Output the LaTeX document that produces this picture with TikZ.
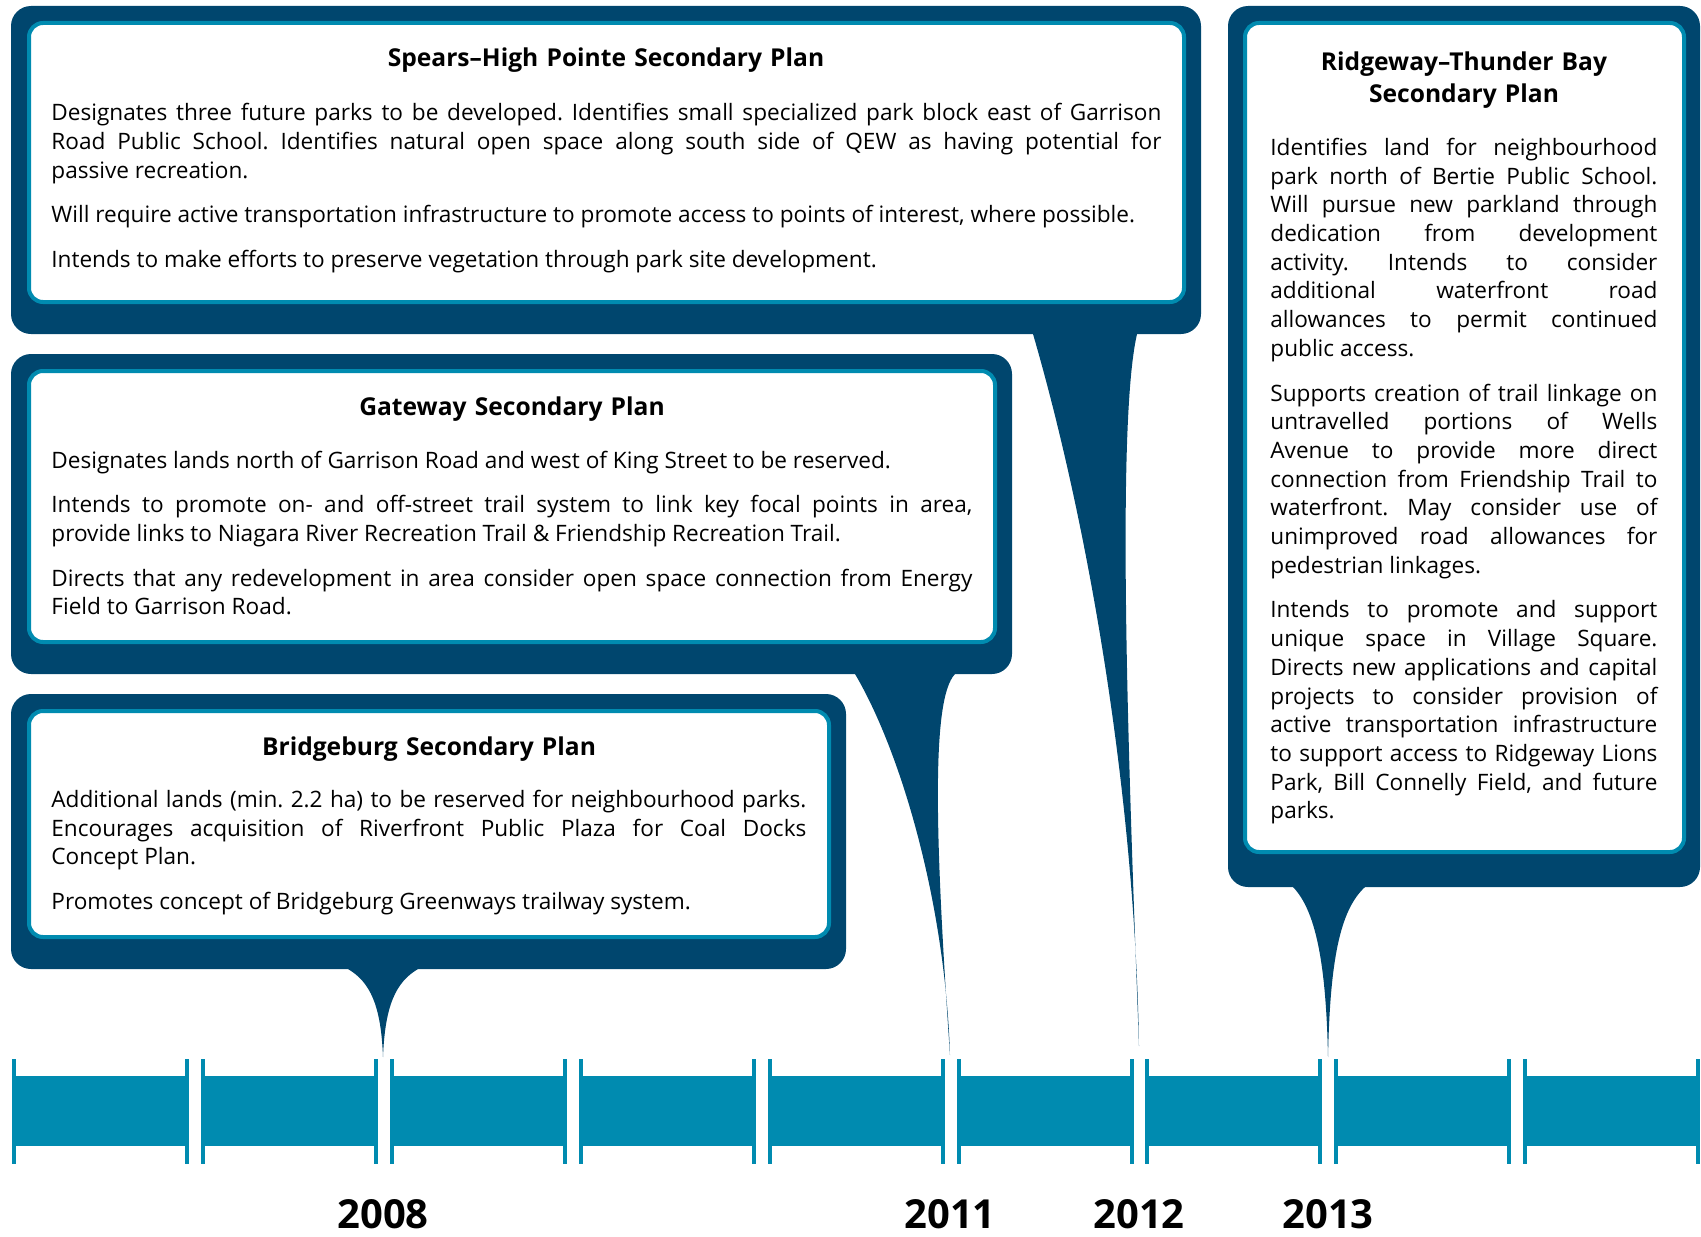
\documentclass[tikz,border=0pt]{standalone}
\usepackage{fontspec}
\setmainfont{Open Sans}
\definecolor{planNavy}{RGB}{0,70,110}
\definecolor{planTeal}{RGB}{0,139,176}
\newcommand\bodyfont{\fontsize{11.3pt}{14.35pt}\selectfont}
\newcommand\titlefont{\fontsize{12.3pt}{15.75pt}\selectfont\bfseries}
\newcommand\yearfont{\fontsize{20pt}{24pt}\selectfont\bfseries}
\newcommand\paras{\frenchspacing\setlength\parskip{8pt}\tolerance=10000 \hyphenpenalty=10000 \exhyphenpenalty=10000 }
\begin{document}
\begin{tikzpicture}[x=0.5pt,y=-0.5pt,
  outerbox/.style={fill=planNavy, rounded corners=10pt},
  innerbox/.style={draw=planTeal, line width=2pt, fill=white, rounded corners=7pt},
  pointer/.style={fill=planNavy},
  barpart/.style={fill=planTeal},
  plantitle/.style={anchor=base, inner sep=0pt, font=\titlefont, text width=#1, align=center},
  plantext/.style={anchor=base west, inner sep=0pt, font=\bodyfont, text width=#1, align=justify},
  yearlabel/.style={anchor=base, inner sep=0pt, font=\yearfont}]
\path[use as bounding box] (0,0) rectangle (1701,1236);

% timeline: nine segments, each with a tick at both ends
\foreach \i in {0,...,8} {
  \pgfmathsetmacro\xa{12+188.9*\i}
  \fill[barpart] (\xa,1076) rectangle ++(177,70);
  \fill[barpart] (\xa,1059) rectangle ++(4,105);
  \fill[barpart] (\xa+173,1059) rectangle ++(4,105);
}

% pointer tips on the timeline
\coordinate (t2008) at (383,1057);
\coordinate (t2011) at (950,1055);
\coordinate (t2012) at (1139,1046);
\coordinate (t2013) at (1328,1057);

% pointers from the boxes down to the years
\fill[pointer] (348,955) -- (348,969) .. controls (370,982) and (381,1005) .. (t2008)
  .. controls (385,1005) and (396,982) .. (418,969) -- (418,955) -- cycle;
\fill[pointer] (855,660) -- (855,674) .. controls (900,750) and (945,900) .. (t2011)
  .. controls (936,850) and (930,700) .. (955,674) -- (955,660) -- cycle;
\fill[pointer] (1033,320) -- (1033,334) .. controls (1090,530) and (1135,800) .. (t2012)
  .. controls (1130,800) and (1115,430) .. (1137,334) -- (1137,320) -- cycle;
\fill[pointer] (1293,873) -- (1293,887) .. controls (1315,910) and (1326,960) .. (t2013)
  .. controls (1330,960) and (1340,910) .. (1365,887) -- (1365,873) -- cycle;

% boxes
\fill[outerbox] (11,6) rectangle (1201,334);
\draw[innerbox] (29,23) rectangle (1184,302);
\fill[outerbox] (11,354) rectangle (1012,674);
\draw[innerbox] (29,371) rectangle (995,642);
\fill[outerbox] (11,694) rectangle (846,969);
\draw[innerbox] (29,711) rectangle (829,937);
\fill[outerbox] (1228,6) rectangle (1700,887);
\draw[innerbox] (1245,23) rectangle (1684,852);

% Spears-High Pointe
\node[plantitle=540pt] (spearsTitle) at (606,67) {Spears–High Pointe Secondary Plan};
\node[plantext=555pt] (spearsText) at (51,120.7) {\paras
Designates three future parks to be developed. Identifies small specialized park block east of Garrison\linebreak
Road Public School. Identifies natural open space along south side of QEW as having potential for\linebreak
passive recreation.\par
Will require active transportation infrastructure to promote access to points of interest, where possible.\par
Intends to make efforts to preserve vegetation through park site development.};

% Gateway
\node[plantitle=450pt] (gatewayTitle) at (512,415.6) {Gateway Secondary Plan};
\node[plantext=460.5pt] (gatewayText) at (51,468) {\paras
Designates lands north of Garrison Road and west of King Street to be reserved.\par
Intends to promote on- and off-street trail system to link key focal points in area,\linebreak
provide links to Niagara River Recreation Trail \& Friendship Recreation Trail.\par
Directs that any redevelopment in area consider open space connection from Energy\linebreak
Field to Garrison Road.};

% Bridgeburg
\node[plantitle=370pt] (bridgeTitle) at (429,755) {Bridgeburg Secondary Plan};
\node[plantext=377.5pt] (bridgeText) at (51,807.4) {\paras
Additional lands (min. 2.2 ha) to be reserved for neighbourhood parks.\linebreak
Encourages acquisition of Riverfront Public Plaza for Coal Docks\linebreak
Concept Plan.\par
Promotes concept of Bridgeburg Greenways trailway system.};

% Ridgeway-Thunder Bay
\node[plantitle=200pt] (ridgeTitle) at (1464,70.6) {Ridgeway–Thunder Bay\\Secondary Plan};
\node[plantext=193.5pt] (ridgeText) at (1270,155.4) {\paras
Identifies land for neighbourhood\linebreak
park north of Bertie Public School.\linebreak
Will pursue new parkland through\linebreak
dedication from development\linebreak
activity. Intends to consider\linebreak
additional waterfront road\linebreak
allowances to permit continued\linebreak
public access.\par
Supports creation of trail linkage on\linebreak
untravelled portions of Wells\linebreak
Avenue to provide more direct\linebreak
connection from Friendship Trail to\linebreak
waterfront. May consider use of\linebreak
unimproved road allowances for\linebreak
pedestrian linkages.\par
Intends to promote and support\linebreak
unique space in Village Square.\linebreak
Directs new applications and capital\linebreak
projects to consider provision of\linebreak
active transportation infrastructure\linebreak
to support access to Ridgeway Lions\linebreak
Park, Bill Connelly Field, and future\linebreak
parks.};

% years
\node[yearlabel] (y2008) at (383,1228) {2008};
\node[yearlabel] (y2011) at (950,1228) {2011};
\node[yearlabel] (y2012) at (1139,1228) {2012};
\node[yearlabel] (y2013) at (1328,1228) {2013};
\end{tikzpicture}
\end{document}
